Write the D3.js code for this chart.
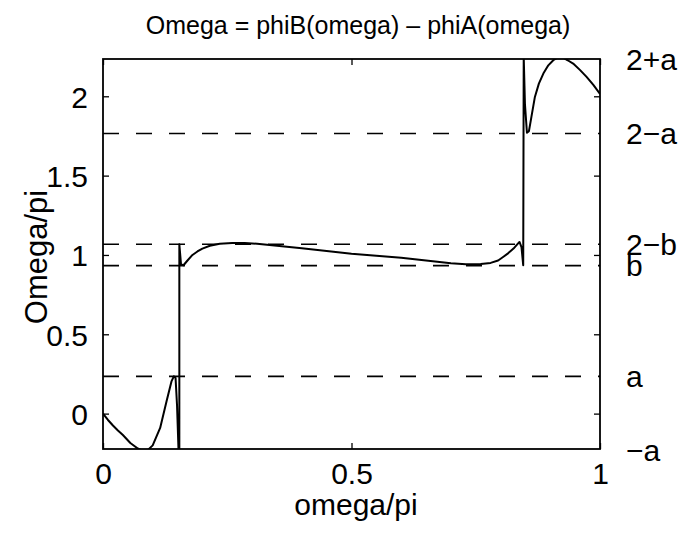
<!DOCTYPE html>
<html><head><meta charset="utf-8">
<script src="https://cdn.jsdelivr.net/npm/d3@7"></script>
<style>body{margin:0;background:#fff;} svg{display:block;} text{font-family:"Liberation Sans",Arial,Helvetica,sans-serif;fill:#000;}</style>
</head><body>
<svg id="chart" width="699" height="533"></svg>
<script>
// ---- data ----
const omegaPi = [0,0.01,0.02,0.03,0.04,0.055,0.07,0.08,0.09,0.10,0.115,0.128,0.138,0.1425,0.146,0.149,0.152,0.1536,
 0.1536,0.157,0.162,0.17,0.18,0.19,0.20,0.215,0.235,0.26,0.285,0.31,0.35,0.40,0.45,0.50,0.55,0.60,0.65,0.70,0.73,0.76,0.78,0.795,0.805,0.815,0.826,0.833,0.838,0.842,0.8455,
 0.8465,0.849,0.853,0.857,0.862,0.869,0.877,0.886,0.896,0.906,0.915,0.925,0.935,0.946,0.96,0.973,0.987,1.0];
const OmegaPi = [0,-0.04,-0.075,-0.106,-0.135,-0.185,-0.22,-0.235,-0.23,-0.2,-0.09,0.08,0.205,0.235,0.225,0.05,-0.235,-0.235,
 1.067,0.94,0.935,0.965,1.0,1.022,1.04,1.058,1.07,1.075,1.075,1.071,1.058,1.042,1.025,1.008,0.995,0.983,0.965,0.947,0.941,0.943,0.95,0.965,0.987,1.01,1.04,1.065,1.082,1.05,0.935,
 2.25,1.95,1.77,1.78,1.87,1.996,2.08,2.143,2.195,2.227,2.245,2.245,2.227,2.206,2.165,2.122,2.07,2.015];
const refLevels = [0.235, 0.933, 1.067, 1.765];           // a, b, 2-b, 2-a
const sideLabels = ["2+a","2\u2212a","2\u2212b","b","a","\u2212a"];
const sideValues = [2.235, 1.765, 1.067, 0.933, 0.235, -0.235];
const xTicks = [0, 0.5, 1];
const yTicks = [0, 0.5, 1, 1.5, 2];
const xDomain = [0, 1];
const yDomain = [-0.223, 2.235];

// ---- layout ----
const L = 103, R = 600, T = 59, B = 449;
const svg = d3.select("#chart");
const x = d3.scaleLinear().domain(xDomain).range([L, R]);
const y = d3.scaleLinear().domain(yDomain).range([B, T]);

svg.append("clipPath").attr("id","clip").append("rect")
  .attr("x",L).attr("y",T).attr("width",R-L).attr("height",B-T);

// dashed reference lines
svg.append("g").selectAll("line").data(refLevels).join("line")
  .attr("x1",L).attr("x2",R).attr("y1",d=>y(d)).attr("y2",d=>y(d))
  .attr("stroke","#000").attr("stroke-width",1.6).attr("stroke-dasharray","16,17");

// curve
const pts = omegaPi.map((v,i)=>[v, OmegaPi[i]]);
svg.append("path").datum(pts)
  .attr("clip-path","url(#clip)")
  .attr("fill","none").attr("stroke","#000").attr("stroke-width",2).attr("stroke-linejoin","round")
  .attr("d", d3.line().x(d=>x(d[0])).y(d=>y(d[1])));

// axes with inward ticks
const fs = 30;
const gxB = svg.append("g").attr("transform",`translate(0,${B})`)
  .call(d3.axisBottom(x).tickValues(xTicks).tickSize(-6).tickPadding(14).tickFormat(d3.format("~g")));
const gxT = svg.append("g").attr("transform",`translate(0,${T})`)
  .call(d3.axisTop(x).tickValues(xTicks).tickSize(-6).tickFormat(""));
const gyL = svg.append("g").attr("transform",`translate(${L},0)`)
  .call(d3.axisLeft(y).tickValues(yTicks).tickSize(-6).tickPadding(15).tickFormat(d3.format("~g")));
const gyR = svg.append("g").attr("transform",`translate(${R},0)`)
  .call(d3.axisRight(y).tickValues(yTicks).tickSize(-6).tickFormat(""));
[gxB,gxT,gyL,gyR].forEach(g=>{
  g.select(".domain").remove();
  g.selectAll("line").attr("stroke","#000").attr("stroke-width",1.3);
  g.selectAll("text").attr("font-size",fs).attr("font-family",null);
});
gyL.selectAll("text").attr("dy","0.36em");

// box
svg.append("rect").attr("x",L).attr("y",T).attr("width",R-L).attr("height",B-T)
  .attr("fill","none").attr("stroke","#000").attr("stroke-width",1.8);

// right side labels
svg.append("g").selectAll("text").data(sideLabels).join("text")
  .attr("x",626).attr("y",(d,i)=>y(sideValues[i])).attr("dy","0.35em")
  .attr("font-size",fs).text(d=>d);

// title and axis labels
svg.append("text").attr("x",358).attr("y",33.5).attr("text-anchor","middle")
  .attr("font-size",25).text("Omega = phiB(omega) \u2013 phiA(omega)");
svg.append("text").attr("x",356).attr("y",515).attr("text-anchor","middle")
  .attr("font-size",30).text("omega/pi");
svg.append("text").attr("transform","translate(47,257) rotate(-90)").attr("text-anchor","middle")
  .attr("font-size",31).text("Omega/pi");
</script>
</body></html>
